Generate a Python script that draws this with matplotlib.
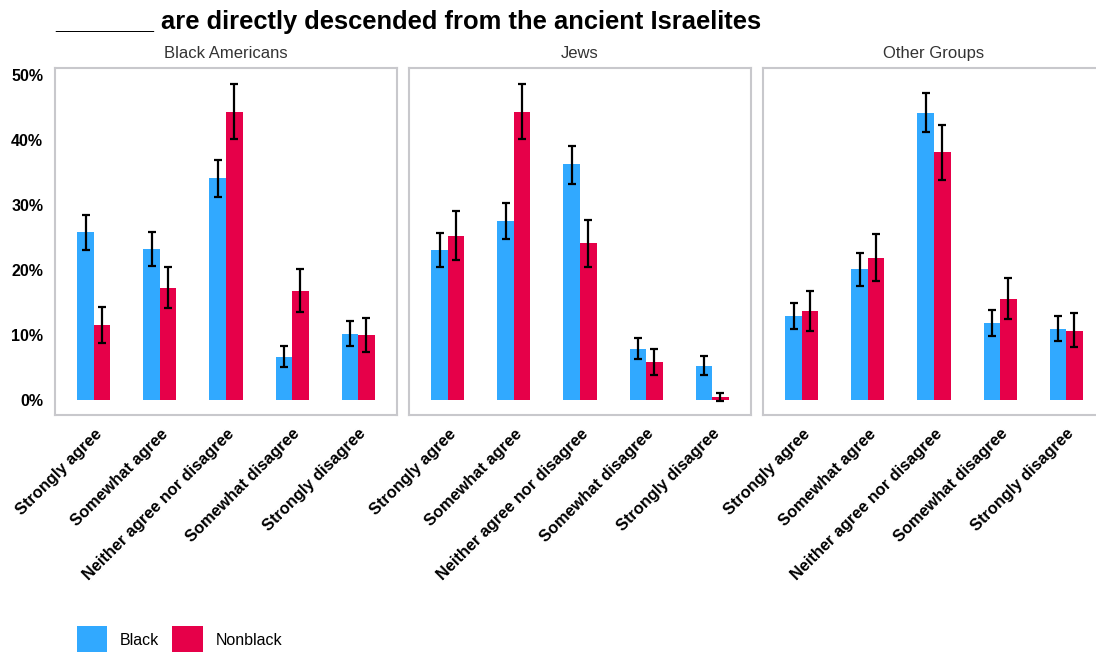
import numpy as np
import matplotlib.pyplot as plt

plt.rcParams['font.family'] = ['Liberation Sans', 'DejaVu Sans']

categories = ['Strongly agree', 'Somewhat agree', 'Neither agree nor disagree',
              'Somewhat disagree', 'Strongly disagree']
panels = ['Black Americans', 'Jews', 'Other Groups']

# percent values, lower and upper CI bounds
black_vals = [[25.8, 23.2, 34.2, 6.6, 10.2],
              [23.1, 27.5, 36.3, 7.8, 5.3],
              [12.9, 20.1, 44.2, 11.8, 11.0]]
black_lo = [[23.1, 20.6, 31.3, 5.1, 8.3],
            [20.5, 24.8, 33.3, 6.3, 3.9],
            [10.9, 17.6, 41.2, 9.9, 9.1]]
black_hi = [[28.5, 25.8, 37.0, 8.3, 12.1],
            [25.7, 30.3, 39.1, 9.6, 6.8],
            [15.0, 22.6, 47.2, 13.8, 12.9]]

nonblack_vals = [[11.5, 17.2, 44.4, 16.8, 10.0],
                 [25.3, 44.4, 24.1, 5.8, 0.4],
                 [13.7, 21.8, 38.1, 15.6, 10.7]]
nonblack_lo = [[8.8, 14.1, 40.1, 13.6, 7.4],
               [21.6, 40.1, 20.4, 3.8, -0.1],
               [10.7, 18.3, 33.9, 12.5, 8.1]]
nonblack_hi = [[14.3, 20.5, 48.6, 20.1, 12.6],
               [29.1, 48.6, 27.7, 7.8, 1.1],
               [16.8, 25.5, 42.3, 18.8, 13.4]]

blue = '#31a9ff'
red = '#e60049'

W, H = 1096, 652
fig = plt.figure(figsize=(W / 100, H / 100), dpi=100)

lefts = [55, 409, 763]
pw = 342
top, bottom = 68, 415
x = np.arange(len(categories))
bw = 0.25

for i, name in enumerate(panels):
    ax = fig.add_axes([lefts[i] / W, 1 - bottom / H, pw / W, (bottom - top) / H])
    for vals, lo, hi, off, col, lab in [
            (black_vals[i], black_lo[i], black_hi[i], -bw / 2, blue, 'Black'),
            (nonblack_vals[i], nonblack_lo[i], nonblack_hi[i], bw / 2, red, 'Nonblack')]:
        v = np.array(vals)
        yerr = [v - np.array(lo), np.array(hi) - v]
        ax.bar(x + off, v, bw, color=col, label=lab, zorder=2)
        ax.errorbar(x + off, v, yerr=yerr, fmt='none', ecolor='black',
                    elinewidth=1.6, capsize=3, capthick=1.6, zorder=3)
    ax.set_xlim(-0.59, 4.59)
    ax.set_ylim(-2.3, 51.1)
    ax.set_xticks(x)
    ax.set_xticklabels(categories, rotation=45, ha='right', rotation_mode='anchor',
                       fontsize=11.8, fontweight='bold')
    ax.set_yticks([0, 10, 20, 30, 40, 50])
    if i == 0:
        ax.set_yticklabels([f'{t}%' for t in range(0, 60, 10)],
                           fontsize=11.5, fontweight='bold')
    else:
        ax.set_yticklabels([])
    ax.tick_params(length=0)
    ax.tick_params(axis='y', pad=8.5)
    ax.tick_params(axis='x', pad=8)
    for s in ax.spines.values():
        s.set_color('#c8c8cc')
        s.set_linewidth(1.5)
    ax.set_title(name, fontsize=12, color='#333333', pad=7)
    if i == 0:
        handles, labels = ax.get_legend_handles_labels()

fig.text(55 / W, 1 - 22 / H, '_______ are directly descended from the ancient Israelites',
         fontsize=18.4, fontweight='bold', va='center', ha='left')

fig.legend(handles, labels, loc='center left', bbox_to_anchor=(77 / W, 1 - 640 / H),
           frameon=False, fontsize=11.5, handlelength=1.9, handleheight=2.4,
           handletextpad=0.8, columnspacing=0.8, ncol=2, borderpad=0, borderaxespad=0)

fig.savefig('out.png', dpi=100)
